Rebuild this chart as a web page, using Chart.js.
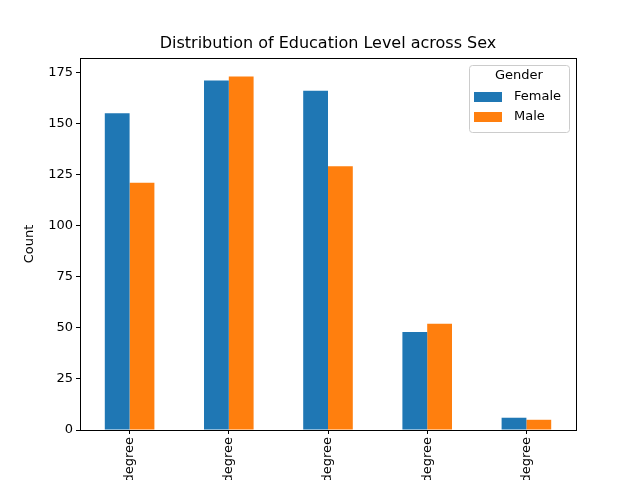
<!DOCTYPE html>
<html>
<head>
<meta charset="utf-8">
<script src="https://cdn.jsdelivr.net/npm/chart.js@4"></script>
<style>
  html, body { margin: 0; padding: 0; background: #fff; overflow: hidden; }
  #wrap { width: 640px; height: 480px; }
</style>
</head>
<body>
<div id="wrap"><canvas id="c" width="640" height="480"></canvas></div>
<script>
const categories = ["Bachelor's degree", "Master's degree", "High school degree", "Doctoral degree", "Associate degree"];
const female = [155, 171, 166, 48, 6];
const male = [121, 173, 129, 52, 5];
const yTicks = [0, 25, 50, 75, 100, 125, 150, 175];

const FONT = "'DejaVu Sans', sans-serif";

// title, frame and legend drawn like matplotlib
const decor = {
  id: "decor",
  afterDraw(chart) {
    const { ctx, chartArea: a } = chart;
    ctx.save();
    ctx.strokeStyle = "#000";
    ctx.lineWidth = 1;
    ctx.strokeRect(Math.round(a.left) + 0.5, Math.round(a.top) + 0.5,
      Math.round(a.right - a.left), Math.round(a.bottom - a.top));

    ctx.fillStyle = "#000";
    ctx.font = `16px ${FONT}`;
    ctx.textAlign = "center";
    ctx.textBaseline = "middle";
    ctx.fillText("Distribution of Education Level across Sex", 328, 44);

    // legend box
    ctx.fillStyle = "rgba(255,255,255,0.8)";
    ctx.strokeStyle = "#ccc";
    ctx.beginPath();
    ctx.roundRect(469.5, 65.5, 100, 67, 3);
    ctx.fill();
    ctx.stroke();
    ctx.fillStyle = "#000";
    ctx.font = `13px ${FONT}`;
    ctx.fillText("Gender", 519, 76);
    ctx.textAlign = "left";
    const items = [["Female", "#1f77b4", 97], ["Male", "#ff7f0e", 117]];
    items.forEach(([name, col, y]) => {
      ctx.fillStyle = col;
      ctx.fillRect(474, y - 5, 28, 10);
      ctx.fillStyle = "#000";
      ctx.fillText(name, 514, y);
    });
    ctx.restore();
  }
};

new Chart(document.getElementById("c"), {
  type: "bar",
  data: {
    labels: categories,
    datasets: [
      { label: "Female", data: female, backgroundColor: "#1f77b4" },
      { label: "Male", data: male, backgroundColor: "#ff7f0e" }
    ]
  },
  options: {
    responsive: false,
    animation: false,
    layout: { padding: { top: 58, right: 64, left: 22, bottom: 0 } },
    datasets: { bar: { categoryPercentage: 0.5, barPercentage: 1.0 } },
    plugins: { legend: { display: false }, title: { display: false }, tooltip: { enabled: false } },
    scales: {
      x: {
        afterFit: s => { s.height = 50; },
        grid: { offset: false, drawOnChartArea: false, color: "#000", tickLength: 4 },
        border: { color: "#000" },
        ticks: { color: "#000", minRotation: 90, maxRotation: 90, font: { family: FONT, size: 13 } }
      },
      y: {
        min: 0,
        max: 182,
        afterFit: s => { s.width = 58; },
        afterBuildTicks: s => { s.ticks = yTicks.map(v => ({ value: v })); },
        grid: { drawOnChartArea: false, color: "#000", tickLength: 4 },
        border: { color: "#000" },
        ticks: { color: "#000", font: { family: FONT, size: 13 } },
        title: { display: true, text: "Count", color: "#000", padding: 0, font: { family: FONT, size: 13 } }
      }
    }
  },
  plugins: [decor]
});
</script>
</body>
</html>
